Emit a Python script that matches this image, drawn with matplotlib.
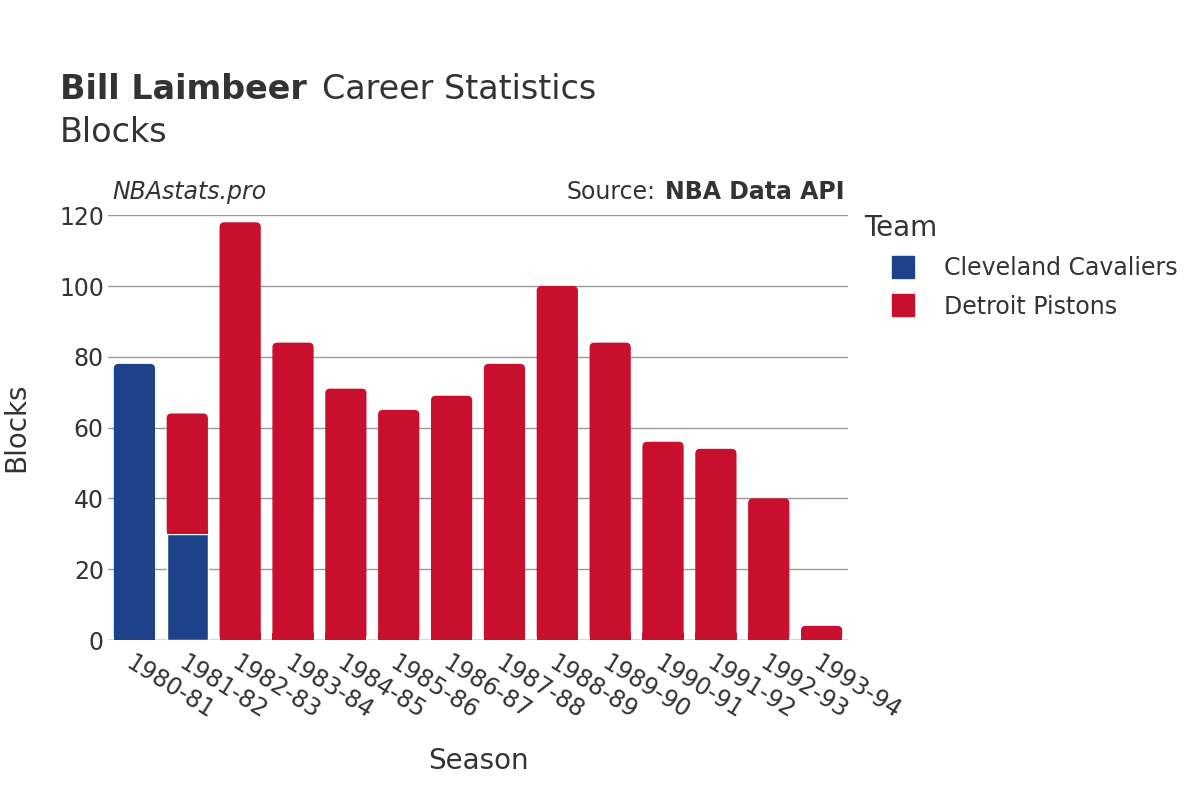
import matplotlib.pyplot as plt
import numpy as np
from matplotlib.patches import FancyBboxPatch
from matplotlib.lines import Line2D

seasons = ["1980-81", "1981-82", "1982-83", "1983-84", "1984-85", "1985-86", "1986-87",
           "1987-88", "1988-89", "1989-90", "1990-91", "1991-92", "1992-93", "1993-94"]
cavaliers = [78, 30, 0, 0, 0, 0, 0, 0, 0, 0, 0, 0, 0, 0]
pistons = [0, 34, 118, 84, 71, 65, 69, 78, 100, 84, 56, 54, 40, 4]

CLE = "#1D428A"
DET = "#C8102E"
TXT = "#333333"

fig = plt.figure(figsize=(12, 8), dpi=100)
ax = fig.add_axes([0.09, 0.2, 0.6167, 0.531])

x = np.arange(len(seasons))
w = 0.78
# px per x unit / px per y unit, so the corners come out round
aspect = (740 / 14) / (425 / 120)


def rbar(x0, bottom, height, color, round_top):
    if height <= 0:
        return
    if round_top:
        p = FancyBboxPatch((x0 - w / 2, bottom), w, height,
                           boxstyle="round,pad=0,rounding_size=0.09",
                           mutation_aspect=aspect, fc=color, ec="none")
        ax.add_patch(p)
        # square off the bottom corners
        ax.add_patch(plt.Rectangle((x0 - w / 2, bottom), w, min(height, 2),
                                   fc=color, ec="none"))
    else:
        ax.add_patch(plt.Rectangle((x0 - w / 2, bottom), w, height,
                                   fc=color, ec="white", lw=1))


for i in range(len(seasons)):
    rbar(x[i], 0, cavaliers[i], CLE, pistons[i] == 0)
    rbar(x[i], cavaliers[i], pistons[i], DET, True)

ax.set_xlim(-0.5, len(seasons) - 0.5)
ax.set_ylim(0, 120)
ax.set_yticks(range(0, 121, 20))
ax.yaxis.grid(True, color="#999999", lw=1)
ax.set_axisbelow(True)
for s in ax.spines.values():
    s.set_visible(False)
ax.axhline(0, color="#e6e6e6", lw=2, zorder=0.5)
ax.tick_params(axis="both", length=0, labelsize=17, colors=TXT)
ax.tick_params(axis="y", pad=3)
ax.set_xticks(x)
ax.set_xticklabels(seasons, rotation=-32, ha="left", va="top", rotation_mode="anchor")
ax.tick_params(axis="x", pad=8)

ax.set_xlabel("Season", fontsize=20, color=TXT, labelpad=17)
ax.set_ylabel("Blocks", fontsize=20, color=TXT, labelpad=21)

fig.text(0.05, 0.888, "Bill Laimbeer", fontsize=24, fontweight="bold", color=TXT, va="center")
fig.text(0.268, 0.888, "Career Statistics", fontsize=24, color=TXT, va="center")
fig.text(0.05, 0.834, "Blocks", fontsize=24, color=TXT, va="center")

fig.text(0.094, 0.76, "NBAstats.pro", fontsize=17, style="italic", color=TXT, va="center")
fig.text(0.546, 0.76, "Source:", fontsize=17, color=TXT, va="center", ha="right")
fig.text(0.704, 0.76, "NBA Data API", fontsize=17, fontweight="bold", color=TXT,
         va="center", ha="right")

handles = [Line2D([], [], marker="s", ls="", ms=16, color=CLE),
           Line2D([], [], marker="s", ls="", ms=16, color=DET)]
leg = fig.legend(handles, ["Cleveland Cavaliers", "Detroit Pistons"], title="Team",
                 loc="upper left", bbox_to_anchor=(0.712, 0.744), frameon=False,
                 fontsize=17, title_fontsize=20, labelcolor=TXT, handlelength=3.3,
                 handletextpad=0.1, labelspacing=0.6, borderaxespad=0)
leg.get_title().set_color(TXT)
leg._legend_box.align = "left"

fig.savefig("out.png", dpi=100)
